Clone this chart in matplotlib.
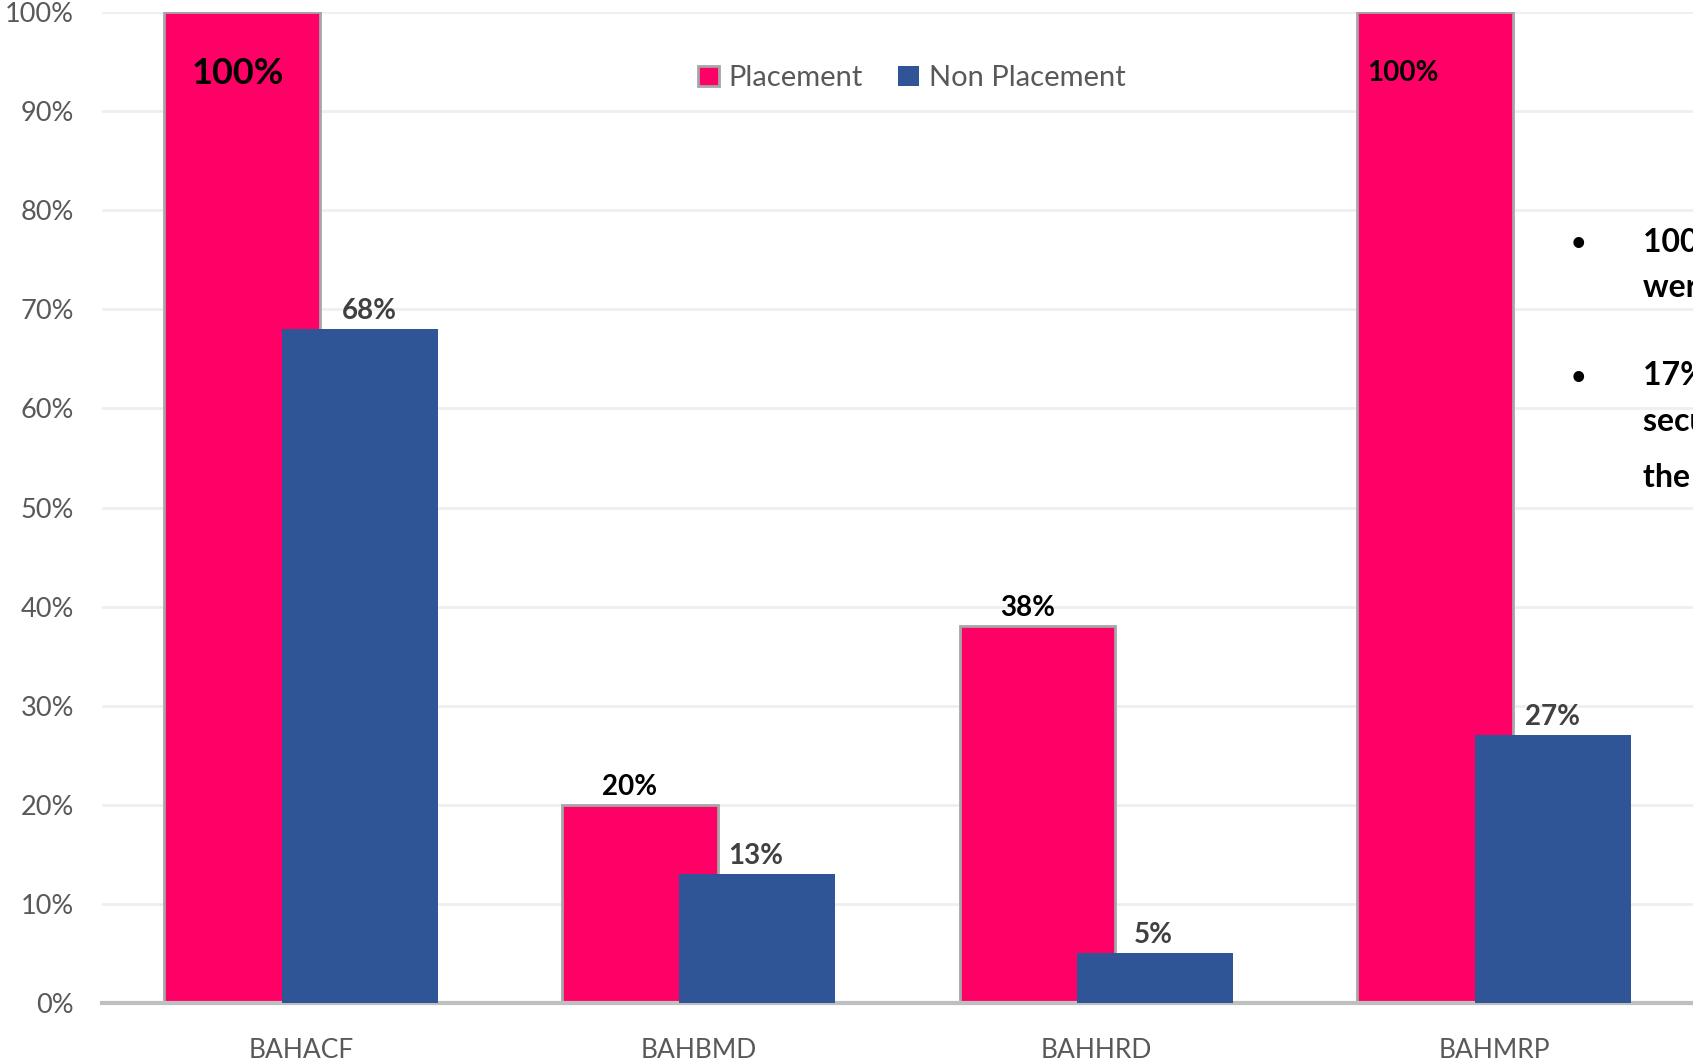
import numpy as np
import matplotlib.pyplot as plt

## DATA ##
programmes = ['BAHACF', 'BAHBMD', 'BAHHRD', 'BAHMRP']
placement = [1.00, 0.20, 0.38, 1.00]
non_placement = [0.68, 0.13, 0.05, 0.27]
yticks = [0, 0.1, 0.2, 0.3, 0.4, 0.5, 0.6, 0.7, 0.8, 0.9, 1.0]
notes = [['100% of the BAHACF and BAHMRP students', 'were placed'],
         ['17% of the students opted for higher', 'secured placement in', 'the industry']]

pink = '#FF0066'
blue = '#2F5597'
plt.rcParams['font.family'] = ['Lato', 'DejaVu Sans']

fig = plt.figure(figsize=(16.93, 10.63), dpi=100)
ax = fig.add_axes([0.0602, 0.0564, 0.9398, 0.9323])

x = np.arange(len(programmes))
w = 0.392
off = 0.148
b1 = ax.bar(x - off, placement, w, color=pink, edgecolor='#A6A6A6', linewidth=2, label='Placement', zorder=2)
b2 = ax.bar(x + off, non_placement, w, color=blue, linewidth=0, label='Non Placement', zorder=3)

ax.set_xlim(-0.5, 3.5)
ax.set_ylim(0, 1.0)
ax.set_yticks(yticks)
ax.set_yticklabels(['{:.0f}%'.format(v * 100) for v in yticks])
ax.set_xticks(x)
ax.set_xticklabels(programmes)
ax.tick_params(axis='y', length=0, pad=20, labelsize=19.5, labelcolor='#595959')
ax.tick_params(axis='x', length=0, pad=25, labelsize=19, labelcolor='#595959')
ax.grid(axis='y', color='#EFEFEF', linewidth=2, zorder=0)
ax.set_axisbelow(True)
for s in ['top', 'right', 'left']:
    ax.spines[s].set_visible(False)
ax.spines['bottom'].set_color('#BFBFBF')
ax.spines['bottom'].set_linewidth(3)

# data labels
for i, v in enumerate(placement):
    if v >= 1.0:
        size = 26 if i == 0 else 20
        ax.annotate('{:.0f}%'.format(v * 100), (x[i] - off, 0.94), xytext=(-4 if i == 0 else -32, -2),
                    textcoords='offset pixels', ha='center', va='center', fontsize=size,
                    fontweight='bold', color='black', zorder=5)
    else:
        ax.annotate('{:.0f}%'.format(v * 100), (x[i] - off, v), xytext=(-10, 18),
                    textcoords='offset pixels', ha='center', va='center', fontsize=20,
                    fontweight='bold', color='black', zorder=5)
dxs = [10, -2, -2, 0]
for i, v in enumerate(non_placement):
    ax.annotate('{:.0f}%'.format(v * 100), (x[i] + off, v), xytext=(dxs[i], 18),
                textcoords='offset pixels', ha='center', va='center', fontsize=20,
                fontweight='bold', color='#404040', zorder=5)

leg = ax.legend(loc='center', bbox_to_anchor=(0.509, 0.933), ncol=2, frameon=False,
                fontsize=21, handlelength=0.7, handleheight=0.7, handletextpad=0.35,
                columnspacing=1.2, labelcolor='#595959')

# clipped side notes
ys = [[242, 287], [376, 422, 478]]
for block, yy in zip(notes, ys):
    fig.text(1578 / 1693, 1 - (yy[0] + 3) / 1063, '\u2022', fontsize=22, fontweight='bold',
             ha='center', va='center', family=['DejaVu Sans'])
    for line, yp in zip(block, yy):
        fig.text(1643 / 1693, 1 - yp / 1063, line, fontsize=23, fontweight='bold',
                 ha='left', va='center', color='black')

plt.savefig('out.png', dpi=100)
